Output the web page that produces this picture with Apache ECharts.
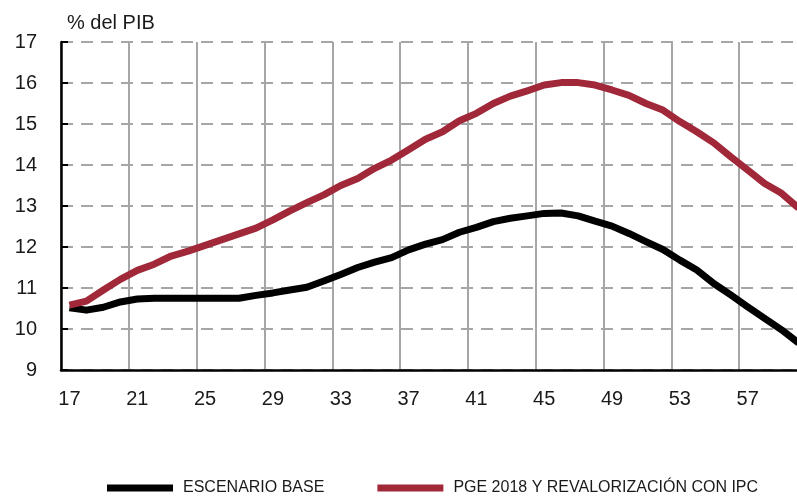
<!DOCTYPE html>
<html>
<head>
<meta charset="utf-8">
<script src="https://cdn.jsdelivr.net/npm/echarts@6/dist/echarts.min.js"></script>
<style>
html, body { margin: 0; padding: 0; background: #fff; }
#chart { width: 797px; height: 496px; }
</style>
</head>
<body>
<div id="chart"></div>
<script>
var years = ['17','18','19','20','21','22','23','24','25','26','27','28','29','30','31','32','33','34','35','36','37','38',
             '39','40','41','42','43','44','45','46','47','48','49','50','51','52','53','54','55','56','57','58','59','60'];
var escenarioBase = [10.52,10.46,10.53,10.66,10.73,10.75,10.75,10.75,10.75,10.75,10.75,10.82,10.88,10.95,11.02,11.17,11.33,11.50,11.63,11.74,11.93,12.07,
                     12.18,12.36,12.48,12.62,12.70,12.76,12.82,12.83,12.76,12.63,12.51,12.33,12.13,11.94,11.68,11.44,11.11,10.83,10.54,10.26,9.98,9.66];
var pgeIpc = [10.58,10.68,10.95,11.21,11.43,11.58,11.78,11.90,12.04,12.18,12.32,12.46,12.66,12.88,13.08,13.27,13.50,13.67,13.92,14.12,14.37,14.63,
              14.81,15.08,15.26,15.50,15.68,15.81,15.95,16.01,16.01,15.95,15.83,15.70,15.50,15.34,15.06,14.81,14.54,14.20,13.88,13.55,13.31,12.95];
var seriesNames = ['ESCENARIO BASE', 'PGE 2018 Y REVALORIZACIÓN CON IPC'];

var myChart = echarts.init(document.getElementById('chart'));
var option = {
    animation: false,
    backgroundColor: '#fff',
    color: ['#000000', '#A12839'],
    title: {
        text: '% del PIB',
        left: 62,
        top: 8,
        textStyle: { fontFamily: 'Liberation Sans', fontSize: 20, fontWeight: 'normal', color: '#1a1a1a' }
    },
    legend: {
        data: seriesNames,
        left: 107,
        top: 480,
        padding: 0,
        icon: 'rect',
        itemWidth: 66,
        itemHeight: 7,
        itemGap: 53,
        textStyle: { fontFamily: 'Liberation Sans', fontSize: 16, color: '#1a1a1a', padding: [0, 0, 0, 5] }
    },
    grid: {
        left: 61,
        top: 42,
        width: 746,
        height: 328,
        outerBoundsMode: 'none'
    },
    xAxis: {
        type: 'category',
        data: years,
        boundaryGap: true,
        axisLine: { lineStyle: { color: '#000', width: 2.5 } },
        axisTick: { inside: true, length: 6, interval: 3, lineStyle: { color: '#000', width: 2 } },
        axisLabel: { interval: 3, margin: 19, fontFamily: 'Liberation Sans', fontSize: 20, color: '#1a1a1a' },
        splitLine: { show: true, interval: 3, lineStyle: { color: '#a6a6a6', width: 2 } }
    },
    yAxis: {
        type: 'value',
        min: 9,
        max: 17,
        interval: 1,
        axisLine: { show: true, lineStyle: { color: '#000', width: 2.5 } },
        axisTick: { show: true, inside: true, length: 7, lineStyle: { color: '#000', width: 2 } },
        axisLabel: { margin: 24, fontFamily: 'Liberation Sans', fontSize: 20, color: '#1a1a1a' },
        splitLine: { lineStyle: { color: '#a6a6a6', width: 2, type: [12, 8] } }
    },
    series: [
        {
            name: seriesNames[0],
            type: 'line',
            data: escenarioBase,
            showSymbol: false,
            lineStyle: { width: 7, join: 'round' }
        },
        {
            name: seriesNames[1],
            type: 'line',
            data: pgeIpc,
            showSymbol: false,
            lineStyle: { width: 7, join: 'round' }
        }
    ]
};
myChart.setOption(option);
</script>
</body>
</html>
